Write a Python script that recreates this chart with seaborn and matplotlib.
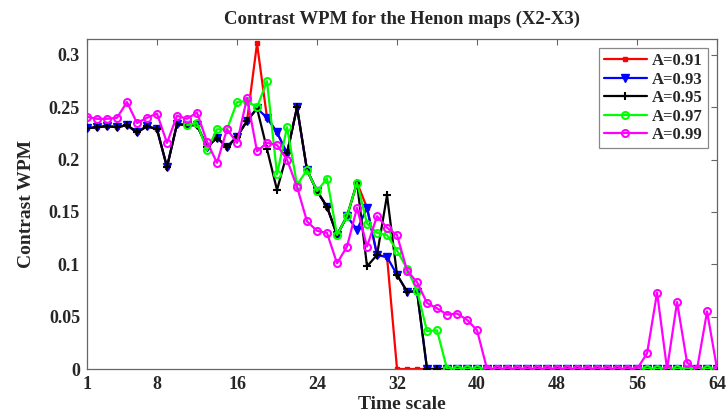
import numpy as np
import pandas as pd
import matplotlib
matplotlib.use("Agg")
import matplotlib.pyplot as plt
import seaborn as sns

nan = np.nan

# Time scales 1..64
time_scale = list(range(1, 65))

# Contrast WPM per time scale, one list per A parameter
wpm_091 = [0.230, 0.231, 0.232, 0.231, 0.233, 0.226, 0.232, 0.229, 0.193, 0.234,
           0.233, 0.233, 0.212, 0.221, 0.212, 0.222, 0.237, 0.311, 0.240, 0.226,
           0.206, 0.250, 0.190, 0.170, 0.155, 0.128, 0.146, 0.178, 0.154, 0.109,
           0.107] + [0.0] * 33

wpm_093 = [0.230, 0.231, 0.232, 0.231, 0.233, 0.226, 0.232, 0.229, 0.193, 0.234,
           0.233, 0.233, 0.212, 0.221, 0.212, 0.222, 0.237, 0.249, 0.240, 0.226,
           0.206, 0.250, 0.190, 0.170, 0.155, 0.128, 0.146, 0.133, 0.154, 0.109,
           0.107, 0.090, 0.074, 0.074] + [0.0] * 30

wpm_095 = [0.230, 0.231, 0.232, 0.231, 0.233, 0.226, 0.232, 0.229, 0.193, 0.234,
           0.233, 0.233, 0.212, 0.221, 0.212, 0.222, 0.237, 0.249, 0.210, 0.171,
           0.206, 0.250, 0.190, 0.170, 0.155, 0.128, 0.146, 0.178, 0.098, 0.109,
           0.166, 0.090, 0.074, 0.074] + [0.0] * 30

wpm_097 = [nan] * 10 + [0.233, 0.235, 0.209, 0.229, 0.229, 0.255, 0.256, 0.250, 0.275,
           0.186, 0.231, 0.176, 0.190, 0.170, 0.182, 0.128, 0.146, 0.178, 0.139,
           0.130, 0.128, 0.113, 0.096, 0.075, 0.036, 0.037] + [0.0] * 28

wpm_099 = [0.241, 0.239, 0.239, 0.240, 0.255, 0.235, 0.240, 0.244, 0.216, 0.242,
           0.239, 0.245, 0.217, 0.197, 0.229, 0.216, 0.259, 0.208, 0.216, 0.214,
           0.200, 0.174, 0.141, 0.132, 0.130, 0.101, 0.117, 0.154, 0.117, 0.146,
           0.135, 0.128, 0.094, 0.083, 0.063, 0.058, 0.052, 0.053, 0.047, 0.037] \
          + [0.0] * 16 + [0.015, 0.073, 0.0, 0.064, 0.006, 0.0, 0.055, 0.0]

labels = ["A=0.91", "A=0.93", "A=0.95", "A=0.97", "A=0.99"]
series = [wpm_091, wpm_093, wpm_095, wpm_097, wpm_099]
colors = ["#ff0000", "#0000ff", "#000000", "#00ff00", "#ff00ff"]

x_ticks = [1, 8, 16, 24, 32, 40, 48, 56, 64]
y_ticks = [0, 0.05, 0.1, 0.15, 0.2, 0.25, 0.3]
y_tick_labels = ["0", "0.05", "0.1", "0.15", "0.2", "0.25", "0.3"]

frames = [pd.DataFrame({"Time scale": time_scale, "Contrast WPM": vals, "A": lab})
          for lab, vals in zip(labels, series)]
df = pd.concat(frames, ignore_index=True).dropna()

sns.set_style("white")
plt.rcParams["font.family"] = ["Liberation Serif", "DejaVu Serif"]
plt.rcParams["font.weight"] = "bold"
plt.rcParams["xtick.direction"] = "in"
plt.rcParams["ytick.direction"] = "in"

fig = plt.figure(figsize=(7.28, 4.19), dpi=100)
ax = fig.add_axes([0.1195, 0.1193, 0.8655, 0.7877])

sns.lineplot(data=df, x="Time scale", y="Contrast WPM", hue="A",
             hue_order=labels, palette=dict(zip(labels, colors)),
             linewidth=1.6, errorbar=None, legend=False, ax=ax)

# per-series marker look
marker_kw = [
    dict(marker="s", markersize=3.5, markerfacecolor="#ff0000", markeredgecolor="#ff0000", markeredgewidth=1.0),
    dict(marker="v", markersize=6, markerfacecolor="#0000ff", markeredgecolor="#0000ff", markeredgewidth=1.0),
    dict(marker="+", markersize=6, markerfacecolor="#000000", markeredgecolor="#000000", markeredgewidth=1.5),
    dict(marker="o", markersize=5, markerfacecolor="none", markeredgecolor="#00ff00", markeredgewidth=1.5),
    dict(marker="o", markersize=5, markerfacecolor="none", markeredgecolor="#ff00ff", markeredgewidth=1.5),
]
lines = ax.get_lines()[:len(labels)]
for z, (ln, kw, lab) in enumerate(zip(lines, marker_kw, labels)):
    ln.set(linestyle="-", zorder=2 + z, label=lab, **kw)

ax.set_xlim(1, 64)
ax.set_ylim(0, 0.3153)
ax.set_xticks(x_ticks)
ax.set_xticklabels([str(t) for t in x_ticks])
ax.set_yticks(y_ticks)
ax.set_yticklabels(y_tick_labels)
ax.tick_params(axis="both", which="both", top=True, right=True, length=4,
               width=0.8, color="#666666", labelsize=13, pad=5)
for lbl in ax.get_xticklabels() + ax.get_yticklabels():
    lbl.set_fontweight("bold")

for sp in ax.spines.values():
    sp.set_visible(True)
    sp.set_color("#666666")
    sp.set_linewidth(0.9)

ax.set_title("Contrast WPM for the Henon maps (X2-X3)", fontsize=13.5,
             fontweight="bold", pad=11)
ax.set_xlabel("Time scale", fontsize=14, fontweight="bold", labelpad=2)
ax.set_ylabel("Contrast WPM", fontsize=14, fontweight="bold", labelpad=10)

leg = ax.legend(handles=lines, labels=labels, loc="upper right",
                prop={"weight": "bold", "size": 12},
                frameon=True, fancybox=False, framealpha=1.0,
                edgecolor="#888888", borderaxespad=0.55, handlelength=2.6,
                labelspacing=0.15, borderpad=0.3, handletextpad=0.3)
leg.get_frame().set_linewidth(0.9)

fig.savefig("out.png", dpi=100)
